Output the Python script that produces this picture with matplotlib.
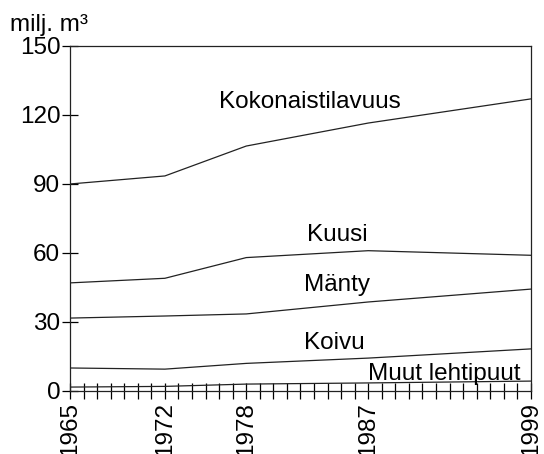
import matplotlib
matplotlib.use("Agg")
import matplotlib.pyplot as plt
from matplotlib.ticker import MultipleLocator

plt.rcParams['font.family'] = ['Liberation Sans', 'DejaVu Sans']

# Volumes, million m3
years = [1965, 1972, 1978, 1987, 1999]
total = [90, 93.5, 106.5, 116.5, 127]
spruce = [47, 49, 58, 61, 59]
pine = [31.7, 32.6, 33.5, 38.7, 44.3]
birch = [10, 9.5, 12, 14.3, 18.3]
other = [1.7, 2, 3, 3.5, 4.3]

series = [total, spruce, pine, birch, other]
labels = ["Kokonaistilavuus", "Kuusi", "Mänty", "Koivu", "Muut lehtipuut"]
label_pos = [(1982.7, 125.5), (1984.7, 67.8), (1984.7, 46), (1984.5, 21), (1992.6, 7.5)]

FS = 17.5

fig = plt.figure(figsize=(5.44, 4.54), dpi=100)
ax = fig.add_axes([0.1287, 0.1388, 0.8473, 0.7599])

for vals in series:
    ax.plot(years, vals, color='#222222', linewidth=0.9)

for text, (x, y) in zip(labels, label_pos):
    ax.text(x, y, text, fontsize=FS, ha='center', va='center', color='black')

ax.set_xlim(1965, 1999)
ax.set_ylim(0, 150)
ax.set_xticks(years)
ax.set_xticklabels([str(y) for y in years], rotation=90, fontsize=FS)
ax.xaxis.set_minor_locator(MultipleLocator(1))
ax.set_yticks(range(0, 151, 30))
ax.tick_params(axis='y', labelsize=FS, direction='inout', length=12, width=0.9, pad=1)
ax.tick_params(axis='x', which='both', direction='inout', length=12, width=0.9, pad=2)

for s in ax.spines.values():
    s.set_linewidth(0.9)
    s.set_color('#222222')

fig.text(0.018, 0.945, "milj. m³", fontsize=FS, ha='left', va='center')

fig.savefig("out.png", dpi=100)
